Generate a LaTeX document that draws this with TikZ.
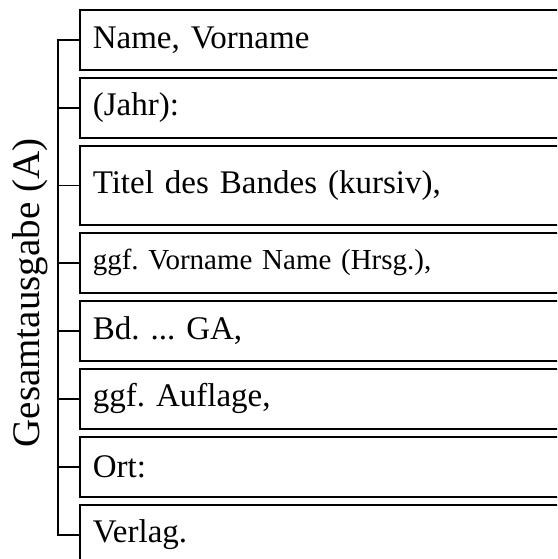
\documentclass[tikz,border=0pt]{standalone}
\usepackage{fontspec}
\setmainfont{Liberation Serif}
\frenchspacing
\begin{document}
\begin{tikzpicture}[x = 1pt, y = -1pt, line width = 1.6pt,
                        feld/.style = {draw, anchor = north west, minimum height = 60pt,
                          text width = 500pt, align = left, inner xsep = 13pt,
                          font = \fontsize{33}{36}\selectfont\frenchspacing}]
      \clip (0, 0) rectangle (557, 559);
      \node [feld] (n1) at (79, 9) {Name, Vorname};
      \node [feld] (n2) at (79, 77) {(Jahr):};
      \node [feld, minimum height = 79pt] (n3) at (79, 145) {Titel des Bandes (kursiv),};
      \node [feld, font = \fontsize{29}{32}\selectfont\frenchspacing] (n4) at (79, 232) {ggf. Vorname Name (Hrsg.),};
      \node [feld] (n5) at (79, 300) {Bd. ... GA,};
      \node [feld] (n6) at (79, 368) {ggf. Auflage,};
      \node [feld] (n7) at (79, 436) {Ort:};
      \node [feld] (n8) at (79, 504) {Verlag.};
      \node [rotate = 90, font = \fontsize{39}{42}\selectfont] (ga) at (30, 293) {Gesamtausgabe (A)};
      \draw (n1.west) -- ++(-21, 0) |- (n8.west);
      \draw (n2.west) -- ++(-21, 0); \draw (n3.west) -- ++(-21, 0);
      \draw (n4.west) -- ++(-21, 0); \draw (n5.west) -- ++(-21, 0);
      \draw (n6.west) -- ++(-21, 0); \draw (n7.west) -- ++(-21, 0);
    \end{tikzpicture}
\end{document}
